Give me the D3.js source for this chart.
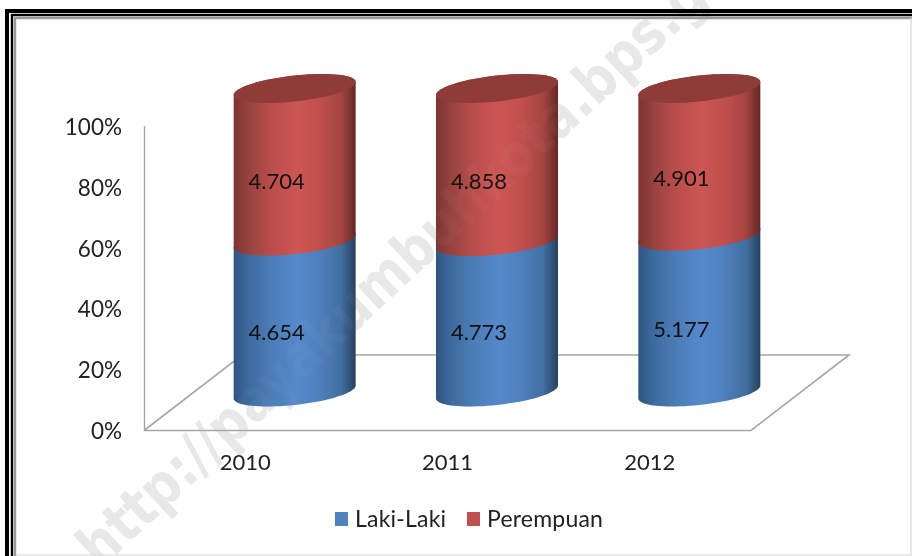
<!DOCTYPE html>
<html><head><meta charset="utf-8">
<script src="https://cdn.jsdelivr.net/npm/d3@7"></script>
<style>html,body{margin:0;padding:0;background:#fff}svg{display:block;filter:blur(0.45px)}</style>
</head><body><svg id="c" width="912" height="556"></svg>
<script>
const years = ["2010","2011","2012"];
const lakiLaki = [4654,4773,5177];
const perempuan = [4704,4858,4901];
const lakiLabels = ["4.654","4.773","5.177"];
const perempuanLabels = ["4.704","4.858","4.901"];
const percentTicks = [0,20,40,60,80,100];
const seriesNames = ["Laki-Laki","Perempuan"];
const watermark = "http://payakumbuhkota.bps.go.id";

const FONT = "Lato, Carlito, 'Open Sans', sans-serif";
const svg = d3.select("#c");
const W = 912, H = 556;

svg.append("rect").attr("width",W).attr("height",H).attr("fill","#fff");
const defs = svg.append("defs");
function grad(id, stops){
  const g = defs.append("linearGradient").attr("id",id).attr("x1",0).attr("x2",1).attr("y1",0).attr("y2",0);
  stops.forEach(s=>g.append("stop").attr("offset",s[0]).attr("stop-color",s[1]));
}
grad("gBlue",[[0,"#2f5480"],[0.12,"#3d6a9e"],[0.3,"#4b7cb6"],[0.52,"#5589cc"],[0.7,"#4f80bd"],[0.88,"#416f9f"],[1,"#27415f"]]);
grad("gRed",[[0,"#7d3431"],[0.12,"#964240"],[0.3,"#b84d4a"],[0.52,"#cd5654"],[0.7,"#c04f4c"],[0.88,"#a54542"],[1,"#642825"]]);

// watermark, behind the chart
const wmTransform = "translate(100,570) rotate(-43) scale(0.86,1)";
svg.append("text").attr("transform",wmTransform)
  .attr("font-family","'DejaVu Sans',sans-serif").attr("font-weight","bold").attr("font-size",58)
  .attr("fill","#e8e8e8").text(watermark);

const x = d3.scaleBand().domain(years).range([144,751]);
const yAxis = d3.scaleLinear().domain([0,100]).range([430.5,126]);
const yBar = d3.scaleLinear().domain([0,1]).range([392,88.5]);
const depthX = 49.5, rx = 61, tiltY = 6.5, ry = 13;

// floor
const floorColor = "#a6a6a6";
const floor = d3.line()([[144,430.5],[751,430.5],[849,355],[242,355],[144,430.5]]);
svg.append("path").attr("d",floor).attr("fill","none").attr("stroke",floorColor).attr("stroke-width",1.6);
svg.append("line").attr("x1",144.5).attr("x2",144.5).attr("y1",yAxis(100)).attr("y2",yAxis(0))
  .attr("stroke",floorColor).attr("stroke-width",1.4);

// y tick labels
svg.append("g").selectAll("text").data(percentTicks).join("text")
  .attr("x",122).attr("y",d=>yAxis(d)+3).attr("text-anchor","end").attr("dominant-baseline","middle")
  .attr("font-family",FONT).attr("font-size",22.5).attr("fill","#222").text(d=>d+"%");
// x labels
svg.append("g").selectAll("text").data(years).join("text")
  .attr("x",d=>x(d)+x.bandwidth()/2).attr("y",470).attr("text-anchor","middle")
  .attr("font-family",FONT).attr("font-size",22).attr("fill","#222").text(d=>d);

// cylinders
const ept = (cx,cy,t)=>[cx+rx*Math.cos(t), cy-tiltY*Math.cos(t)+ry*Math.sin(t)];
const steps = d3.range(0,41).map(i=>i/40);
const line = d3.line();
function segment(cx,y0,y1){
  const bottom = steps.map(s=>ept(cx,y0,Math.PI*(1-s)));
  const top = steps.map(s=>ept(cx,y1,-Math.PI*s));
  return line(bottom.concat(top))+"Z";
}
const gCyl = svg.append("g");
years.forEach((yr,i)=>{
  const total = lakiLaki[i]+perempuan[i];
  const share = lakiLaki[i]/total;
  const cx = x(yr)+x.bandwidth()/2+depthX;
  gCyl.append("path").attr("d",segment(cx,yBar(0),yBar(share))).attr("fill","url(#gBlue)");
  gCyl.append("path").attr("d",segment(cx,yBar(share),yBar(1))).attr("fill","url(#gRed)");
  const rim = steps.concat(steps.map(s=>s+1)).map(s=>ept(cx,yBar(1),Math.PI*s));
  gCyl.append("path").attr("d",line(rim)+"Z").attr("fill","#8f3b38");
  gCyl.append("text").attr("x",cx-18).attr("y",d3.mean([yBar(share),yBar(1)])+24)
    .attr("text-anchor","middle").attr("font-family",FONT).attr("font-size",22).attr("fill","#111").text(perempuanLabels[i]);
  gCyl.append("text").attr("x",cx-18).attr("y",d3.mean([yBar(0),yBar(share)])+23)
    .attr("text-anchor","middle").attr("font-family",FONT).attr("font-size",22).attr("fill","#111").text(lakiLabels[i]);
});

// faint watermark veil over the chart
svg.append("text").attr("transform",wmTransform)
  .attr("font-family","'DejaVu Sans',sans-serif").attr("font-weight","bold").attr("font-size",58)
  .attr("fill","#fff").attr("fill-opacity",0.03).text(watermark);

// legend
const lg = svg.append("g");
[[335,"#4f81bd",seriesNames[0],355],[467,"#c0504d",seriesNames[1],487]].forEach(d=>{
  lg.append("rect").attr("x",d[0]).attr("y",512).attr("width",13).attr("height",14).attr("fill",d[1]);
  lg.append("text").attr("x",d[3]).attr("y",526.5).attr("font-family",FONT).attr("font-size",23).attr("letter-spacing",0.2).attr("fill","#222").text(d[2]);
});

// frame lines
const frame = svg.append("g").attr("fill","none");
frame.append("path").attr("d","M7,556V11H912").attr("stroke","#000").attr("stroke-width",4);
frame.append("path").attr("d","M12,556V15H912").attr("stroke","#000").attr("stroke-width",2.4);
frame.append("path").attr("d","M15,556V18H912").attr("stroke","#999").attr("stroke-width",2.4);
frame.append("path").attr("d","M16,555H911V18").attr("stroke","#d8d8d8").attr("stroke-width",1.2);
</script></body></html>
